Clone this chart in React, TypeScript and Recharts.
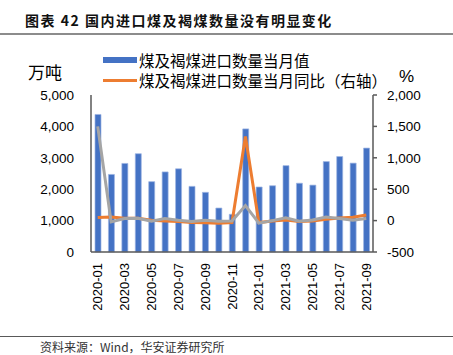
import React from 'react';
import { ComposedChart, Bar, Line, XAxis, YAxis } from 'recharts';

// monthly categories
const months = [
    '2020-01', '2020-02', '2020-03', '2020-04', '2020-05', '2020-06', '2020-07',
    '2020-08', '2020-09', '2020-10', '2020-11', '2020-12', '2021-01', '2021-02',
    '2021-03', '2021-04', '2021-05', '2021-06', '2021-07', '2021-08', '2021-09',
];

// 煤及褐煤进口数量当月值 (万吨)
const importVolume = [
    4380, 2470, 2820, 3130, 2240, 2550, 2650, 2090, 1900, 1400, 1200,
    3920, 2070, 2110, 2750, 2190, 2130, 2880, 3040, 2830, 3310,
];

// 煤及褐煤进口数量当月同比 (%)
const importYoY = [
    50, 58, 38, 38, 6, -5, -15, -30, -36, -41, -30,
    1340, -30, -5, 11, -15, -5, 22, 43, 54, 90,
];

// grey series without legend entry (%)
const greySeries = [
    1500, -20, 33, 38, -10, 33, 6, -15, 6, -10, -5,
    240, -41, 0, 43, -10, 11, 58, 33, 6, 33,
];

const leftTicks = [0, 1000, 2000, 3000, 4000, 5000];
const rightTicks = [-500, 0, 500, 1000, 1500, 2000];

const data = months.map((m, i) => ({
    month: m,
    volume: importVolume[i],
    yoy: importYoY[i],
    grey: greySeries[i],
}));

const FONT = '"Liberation Sans", Arial, "Noto Sans CJK SC", sans-serif';
const CJK = '"Noto Sans CJK SC", "Liberation Sans", sans-serif';

const fmt = (v: number) => v.toLocaleString('en-US');

const XTick = ({ x, y, payload }: any) => (
    <text
        x={x}
        y={y}
        transform={`rotate(-90 ${x} ${y})`}
        textAnchor="end"
        dy="0.35em"
        fontSize={13}
        fontFamily={FONT}
        fill="#000"
    >
        {payload.value}
    </text>
);

export default function App() {
    return (
        <div style={{ position: 'absolute', left: 0, top: 0, width: 453, height: 355, background: '#fff', overflow: 'hidden' }}>
            <div style={{ position: 'absolute', left: 25, top: 10, fontFamily: CJK, fontWeight: 700, fontSize: 14, letterSpacing: 1.5, color: '#111', whiteSpace: 'nowrap' }}>
                图表 42 国内进口煤及褐煤数量没有明显变化
            </div>
            <div style={{ position: 'absolute', left: 0, top: 33, width: 453, height: 2, background: '#8c8c8c' }} />

            <div style={{ position: 'absolute', left: 28, top: 59, fontFamily: CJK, fontSize: 17, color: '#000' }}>万吨</div>
            <div style={{ position: 'absolute', left: 399, top: 67, fontFamily: FONT, fontSize: 17, color: '#000' }}>%</div>

            <div style={{ position: 'absolute', left: 103, top: 50, fontFamily: CJK, fontSize: 15.5, color: '#000', lineHeight: '20px' }}>
                <div style={{ display: 'flex', alignItems: 'center' }}>
                    <span style={{ display: 'inline-block', width: 34, height: 6, background: '#4472C4', marginRight: 2 }} />
                    煤及褐煤进口数量当月值
                </div>
                <div style={{ display: 'flex', alignItems: 'center' }}>
                    <span style={{ display: 'inline-block', width: 34, height: 3, background: '#ED7D31', marginRight: 2 }} />
                    煤及褐煤进口数量当月同比（右轴）
                </div>
            </div>

            <ComposedChart
                width={453}
                height={355}
                data={data}
                margin={{ top: 95, right: 0, left: 0, bottom: 40 }}
                barCategoryGap={0}
            >
                <XAxis
                    dataKey="month"
                    interval={1}
                    tick={<XTick />}
                    tickLine={false}
                    tickSize={0}
                    tickMargin={11}
                    height={63}
                    axisLine={{ stroke: '#595959', strokeWidth: 1.5 }}
                />
                <YAxis
                    yAxisId="left"
                    width={91}
                    domain={[0, 5000]}
                    ticks={leftTicks}
                    tickFormatter={fmt}
                    tickLine={false}
                    tickSize={0}
                    tickMargin={17}
                    axisLine={{ stroke: '#595959', strokeWidth: 1.5 }}
                    tick={{ fontSize: 13.5, fill: '#000', fontFamily: FONT }}
                />
                <YAxis
                    yAxisId="right"
                    orientation="right"
                    width={80}
                    domain={[-500, 2000]}
                    ticks={rightTicks}
                    tickFormatter={fmt}
                    tickSize={4}
                    tickMargin={10}
                    tickLine={{ stroke: '#595959', strokeWidth: 1.5 }}
                    axisLine={{ stroke: '#595959', strokeWidth: 1.5 }}
                    tick={{ fontSize: 13.5, fill: '#000', fontFamily: FONT }}
                />
                <Bar
                    yAxisId="left"
                    dataKey="volume"
                    barSize={6}
                    fill="#4472C4"
                    stroke="#9DB5E2"
                    strokeWidth={0.7}
                    isAnimationActive={false}
                />
                <Line
                    yAxisId="right"
                    dataKey="yoy"
                    type="linear"
                    stroke="#ED7D31"
                    strokeWidth={3}
                    dot={false}
                    isAnimationActive={false}
                />
                <Line
                    yAxisId="right"
                    dataKey="grey"
                    type="linear"
                    stroke="#A5A5A5"
                    strokeWidth={3}
                    dot={false}
                    isAnimationActive={false}
                />
            </ComposedChart>

            <div style={{ position: 'absolute', left: 0, top: 336, width: 453, height: 1, background: '#595959' }} />
            <div style={{ position: 'absolute', left: 40, top: 338, fontFamily: CJK, fontSize: 12, color: '#333', whiteSpace: 'nowrap' }}>
                资料来源：Wind，华安证券研究所
            </div>
        </div>
    );
}
